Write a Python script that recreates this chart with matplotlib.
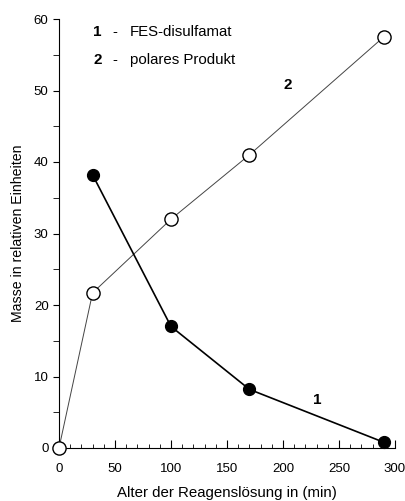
import matplotlib
matplotlib.use('Agg')
import matplotlib.pyplot as plt
from matplotlib.ticker import MultipleLocator

plt.rcParams['font.family'] = ['Liberation Sans', 'DejaVu Sans']

# Reaktionszeit (min) und Massen
t_fes = [30, 100, 170, 290]
m_fes = [38.2, 17.0, 8.2, 0.8]
t_pol = [0, 30, 100, 170, 290]
m_pol = [0.0, 21.7, 32.0, 41.0, 57.5]

fig = plt.figure(figsize=(4.05, 5.01), dpi=100)
ax = fig.add_axes([59/405, 1-448/501, 336/405, 429/501])

ax.plot(t_pol, m_pol, '-', color='#444444', lw=0.7, marker='o', ms=9.5,
        mfc='white', mec='black', mew=1.0, clip_on=False, zorder=3)
ax.plot(t_fes, m_fes, '-', color='black', lw=1.2, marker='o', ms=8.5,
        mfc='black', mec='black', clip_on=False, zorder=4)

ax.set_xlim(0, 300)
ax.set_ylim(0, 60)
ax.spines['top'].set_visible(False)
ax.spines['right'].set_visible(False)
ax.xaxis.set_major_locator(MultipleLocator(50))
ax.xaxis.set_minor_locator(MultipleLocator(10))
ax.yaxis.set_major_locator(MultipleLocator(10))
ax.yaxis.set_minor_locator(MultipleLocator(5))
ax.tick_params(axis='x', which='both', direction='in', labelsize=9.5, pad=11)
ax.tick_params(axis='x', which='major', length=6)
ax.tick_params(axis='x', which='minor', length=3)
ax.tick_params(axis='y', which='both', direction='out', length=4, labelsize=9.5)

ax.set_xlabel('Alter der Reagenslösung in (min)', fontsize=10.8, labelpad=8)
ax.set_ylabel('Masse in relativen Einheiten', fontsize=10.2, labelpad=6)

ax.text(30.4, 58.2, '1', fontsize=11, fontweight='bold', va='center')
ax.text(48, 58.2, '-', fontsize=10.5, va='center')
ax.text(63.4, 58.2, 'FES-disulfamat', fontsize=10.8, va='center')
ax.text(30.4, 54.3, '2', fontsize=11, fontweight='bold', va='center')
ax.text(48, 54.3, '-', fontsize=10.5, va='center')
ax.text(63.4, 54.3, 'polares Produkt', fontsize=10.8, va='center')
ax.text(200, 50.8, '2', fontsize=11, fontweight='bold', va='center')
ax.text(227, 6.7, '1', fontsize=11, fontweight='bold', va='center')

fig.savefig('out.png', dpi=100)
